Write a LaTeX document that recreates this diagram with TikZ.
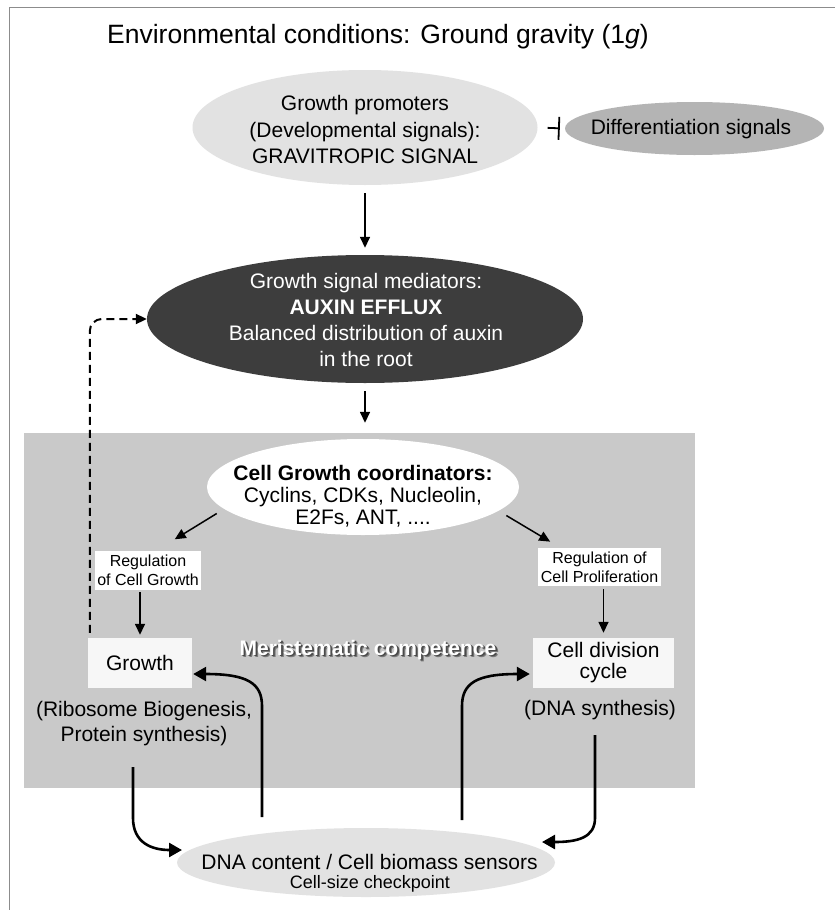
\documentclass[tikz,border=0pt]{standalone}
\usepackage{fontspec}
\setmainfont{Liberation Sans}
\usetikzlibrary{shapes.geometric,arrows.meta}
\newcommand\myfs[2]{\fontsize{#1}{#2}\selectfont}
\newcommand\shadowtext[1]{\rlap{\kern2.6pt\raisebox{-2.6pt}{\textcolor{shadowd}{#1}}}\rlap{\kern1.6pt\raisebox{-1.6pt}{\textcolor{shadowc}{#1}}}#1}
\definecolor{gpc}{HTML}{E2E2E2}
\definecolor{diffc}{HTML}{B4B4B4}
\definecolor{auxc}{HTML}{3D3D3D}
\definecolor{boxc}{HTML}{C9C9C9}
\definecolor{boxw}{HTML}{F7F7F7}
\definecolor{framec}{HTML}{8C8C8C}
\definecolor{shadowc}{HTML}{4A4A4A}
\definecolor{shadowd}{HTML}{7A7A7A}
\tikzset{
 txt/.style={inner sep=0pt, font=\myfs{21}{25}},
 arr/.style={-{Triangle[length=11pt,width=10pt]}, line width=1.5pt},
 carr/.style={-{Triangle[length=13pt,width=14pt]}, line width=2.6pt},
 dasharr/.style={-{Triangle[length=11pt,width=10pt]}, line width=2pt, dash pattern=on 8pt off 5pt},
 ell/.style={ellipse, inner sep=0pt, draw=none},
 wbox/.style={rectangle, inner sep=0pt, fill=white},
}
\begin{document}
\begin{tikzpicture}[x=1pt,y=-1pt]
\useasboundingbox (0,0) rectangle (835,910);
\fill[white] (0,0) rectangle (835,910);
\draw[framec, line width=1pt] (835,7) -- (9,7) -- (9,910);

% meristematic background box
\node[fill=boxc, minimum width=671pt, minimum height=355pt, inner sep=0pt, anchor=north west] (mer) at (24,433) {};

% title
\node[anchor=base west, inner sep=0pt, font=\myfs{26.5}{30}] (title) at (107,43.5)
  {Environmental conditions: Ground gravity (1\textit{g})};

% growth promoters
\node[ell, fill=gpc, minimum width=345pt, minimum height=115pt] (gp) at (365,127.5) {};
\node[txt, align=center, font=\myfs{21}{26.5}] (gpt) at (365,129.5)
  {Growth promoters\\(Developmental signals):\\GRAVITROPIC SIGNAL};

% differentiation signals
\node[ell, fill=diffc, minimum width=259pt, minimum height=53pt] (diff) at (694.5,128.5) {};
\node[txt] (difft) at (691,129.5) {Differentiation signals};

% auxin efflux
\node[ell, fill=auxc, minimum width=436pt, minimum height=128pt] (aux) at (365,319) {};
\node[txt, text=white, align=center, font=\myfs{21}{26}] (auxt) at (366,319.5)
  {Growth signal mediators:\\\textbf{AUXIN EFFLUX}\\Balanced distribution of auxin\\in the root};

% cell growth coordinators
\node[ell, fill=white, minimum width=312pt, minimum height=96pt] (cgc) at (363,487) {};
\node[txt, align=center, font=\myfs{21}{22}] (cgct) at (363,496)
  {\textbf{Cell Growth coordinators:}\\Cyclins, CDKs, Nucleolin,\\E2Fs, ANT, ....};

% regulation boxes
\node[wbox, minimum width=106pt, minimum height=39pt, align=center, font=\myfs{16}{19}] (rcg) at (148,570.5)
  {Regulation\\of Cell Growth};
\node[wbox, minimum width=123pt, minimum height=38pt, align=center, font=\myfs{16}{19}] (rcp) at (599.5,567)
  {Regulation of\\Cell Proliferation};

% growth and cell division boxes
\node[rectangle, fill=boxw, inner sep=0pt, minimum width=104pt, minimum height=50pt, font=\myfs{21}{25}] (growth) at (140,663) {Growth};
\node[rectangle, fill=boxw, inner sep=0pt, minimum width=141pt, minimum height=50pt, align=center, font=\myfs{21}{21}] (cdc) at (603.5,663)
  {Cell division\\cycle};

\node[txt, align=center, font=\myfs{21}{25}] (rib) at (144,723.5) {(Ribosome Biogenesis,\\Protein synthesis)};
\node[txt] (dnas) at (600,710) {(DNA synthesis)};

% meristematic competence label with shadow
\node[txt, font=\bfseries\myfs{21}{24}, text=white] (mert) at (368,651) {\shadowtext{Meristematic competence}};

% DNA content sensors
\node[ell, fill=gpc, minimum width=378pt, minimum height=69pt] (dna) at (366,862.5) {};
\node[txt] (dna1) at (369.5,861.5) {DNA content / Cell biomass sensors};
\node[txt, font=\myfs{18}{20}] (dna2) at (370,883.6) {Cell-size checkpoint};

% connectors
\draw[line width=1.8pt, -{Bar[width=23pt]}, shorten <=10pt, shorten >=5pt] (gp.east) -- (diff.west);
\draw[arr, shorten <=8pt, shorten >=7pt] (gp.south) -- (aux.north);
\draw[arr, shorten <=8pt, shorten >=16pt] (aux.south) -- (aux.south |- cgc.north);
\draw[arr, shorten <=8.6pt, shorten >=22pt] (cgc.189) -- ([xshift=8pt]rcg.north);
\draw[arr, shorten <=9pt, shorten >=12pt] (cgc.350) -- ([xshift=-39pt]rcp.north);
\draw[arr, shorten <=2pt, shorten >=3pt] (rcg.south -| growth.north) -- (growth.north);
\draw[arr, shorten <=3pt, shorten >=5pt] (rcp.south -| cdc.north) -- (cdc.north);
\draw[dasharr, rounded corners=12pt] ([xshift=2pt,yshift=5pt]growth.north west) |- (aux.west);

\coordinate (c1s) at (133,767);
\coordinate (c1e) at (182,850);
\coordinate (c2s) at (262,817);
\coordinate (c3s) at (462,820);
\coordinate (c4s) at (595,735);
\coordinate (c4e) at (542,842);
\draw[carr] (c1s) -- (133,818) .. controls (133,843) and (152,850) .. (c1e);
\draw[carr] (c2s) -- (262,706) .. controls (262,683) and (247,674) .. ([xshift=1pt,yshift=-11pt]growth.east);
\draw[carr] (c3s) -- (462,706) .. controls (462,683) and (477,674) .. ([xshift=-3pt,yshift=-11pt]cdc.west);
\draw[carr] (c4s) -- (595,818) .. controls (595,838) and (577,842) .. (c4e);
\end{tikzpicture}
\end{document}
